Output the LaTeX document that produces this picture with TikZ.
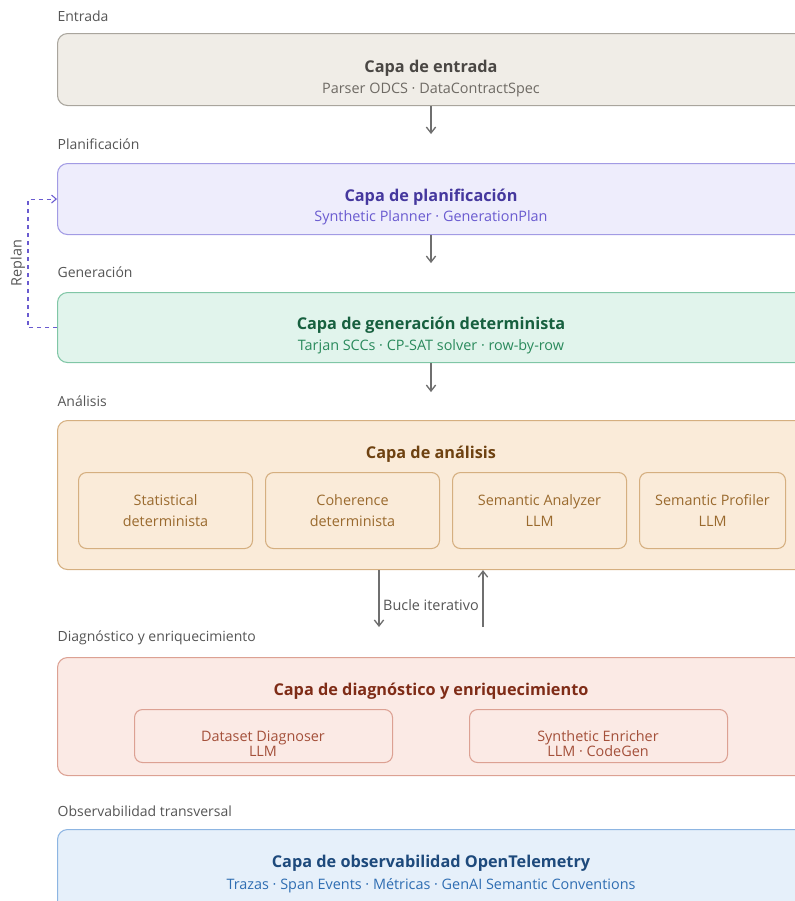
\documentclass[tikz,border=0pt]{standalone}
\usepackage{fontspec}
\setmainfont{Open Sans}
\usetikzlibrary{positioning,arrows.meta}

\definecolor{inFill}{HTML}{F0EDE7}
\definecolor{inLine}{HTML}{A9A59D}
\definecolor{inText}{HTML}{4A4744}
\definecolor{inSub}{HTML}{6E6A64}
\definecolor{plFill}{HTML}{EEEDFC}
\definecolor{plLine}{HTML}{A29BE4}
\definecolor{plText}{HTML}{45389E}
\definecolor{plSub}{HTML}{6A5BD0}
\definecolor{geFill}{HTML}{E1F4EC}
\definecolor{geLine}{HTML}{80C6A6}
\definecolor{geText}{HTML}{17603F}
\definecolor{geSub}{HTML}{2A8A5C}
\definecolor{anFill}{HTML}{FAEBD9}
\definecolor{anLine}{HTML}{D5AF80}
\definecolor{anText}{HTML}{6E4211}
\definecolor{anSub}{HTML}{9A6A2E}
\definecolor{diFill}{HTML}{FBEAE5}
\definecolor{diLine}{HTML}{DCA193}
\definecolor{diText}{HTML}{7F2C17}
\definecolor{diSub}{HTML}{A4503A}
\definecolor{obFill}{HTML}{E6F0FA}
\definecolor{obLine}{HTML}{8DB5E2}
\definecolor{obText}{HTML}{1E4A7C}
\definecolor{obSub}{HTML}{2E6DB2}
\definecolor{flow}{HTML}{6F6F6F}
\definecolor{tag}{HTML}{555555}

\begin{document}
\begin{tikzpicture}[x=0.75pt, y=-0.75pt,
    layer/.style={draw, rounded corners=7.5pt, line width=0.8pt, anchor=north west,
      minimum width=561pt, inner sep=0pt},
    part/.style={draw, rounded corners=6pt, line width=0.8pt, anchor=north west,
      inner sep=0pt, align=center, font=\fontsize{10.8}{15.5}\selectfont},
    tagtext/.style={anchor=west, inner sep=1pt, text=tag, font=\fontsize{10.5}{12}\selectfont},
    title/.style={font=\fontsize{12.2}{14}\bfseries\selectfont},
    subtitle/.style={font=\fontsize{10.8}{12}\selectfont},
    flowarrow/.style={draw=flow, line width=1pt, -{Straight Barb[length=4.5pt,width=7pt]}}]
    \useasboundingbox (0,0) rectangle (794,901);

    % entrada
    \node (tagIn) [tagtext] at (56,16) {Entrada};
    \node (input) [layer, fill=inFill, draw=inLine, minimum height=54pt] at (57,33) {};
    \node (inputT) [title, text=inText] at (431,68.5) {Capa de entrada};
    \node (inputS) [subtitle, text=inSub] at (431,90) {Parser ODCS · DataContractSpec};

    % planificacion
    \node (tagPl) [tagtext] at (56,144) {Planificación};
    \node (plan) [layer, fill=plFill, draw=plLine, minimum height=53.25pt] at (57,163) {};
    \node (planT) [title, text=plText] at (431,197.5) {Capa de planificación};
    \node (planS) [subtitle, text=plSub] at (431,218) {Synthetic Planner · GenerationPlan};

    % generacion
    \node (tagGe) [tagtext] at (56,272) {Generación};
    \node (gen) [layer, fill=geFill, draw=geLine, minimum height=52.5pt] at (57,292) {};
    \node (genT) [title, text=geText] at (431,325.5) {Capa de generación determinista};
    \node (genS) [subtitle, text=geSub] at (431,347) {Tarjan SCCs · CP-SAT solver · row-by-row};

    % analisis
    \node (tagAn) [tagtext] at (56,401) {Análisis};
    \node (ana) [layer, fill=anFill, draw=anLine, minimum height=111.75pt] at (57,420) {};
    \node (anaT) [title, text=anText] at (431,454.5) {Capa de análisis};
    \node (stat) [part, draw=anLine, text=anSub, minimum width=130.5pt, minimum height=57pt] at (78,472) {Statistical\\determinista};
    \node (coh) [part, draw=anLine, text=anSub, minimum width=130.5pt, minimum height=57pt] at (265,472) {Coherence\\determinista};
    \node (sema) [part, draw=anLine, text=anSub, minimum width=130.5pt, minimum height=57pt] at (452,472) {Semantic Analyzer\\LLM};
    \node (semp) [part, draw=anLine, text=anSub, minimum width=109.5pt, minimum height=57pt] at (639,472) {Semantic Profiler\\LLM};

    % diagnostico
    \node (tagDi) [tagtext] at (56,638) {Diagnóstico y enriquecimiento};
    \node (diag) [layer, fill=diFill, draw=diLine, minimum height=88.5pt] at (57,657) {};
    \node (diagT) [title, text=diText] at (431,691.5) {Capa de diagnóstico y enriquecimiento};
    \node (dsd) [part, draw=diLine, minimum width=193.5pt, minimum height=39.75pt] at (134,709) {};
    \node (enr) [part, draw=diLine, minimum width=193.5pt, minimum height=39.75pt] at (469,709) {};
    \node (dsdL) [align=center, text=diSub, font=\fontsize{10.8}{11.3}\selectfont] at (263,744) {Dataset Diagnoser\\LLM};
    \node (enrL) [align=center, text=diSub, font=\fontsize{10.8}{11.3}\selectfont] at (598,744) {Synthetic Enricher\\LLM · CodeGen};

    % observabilidad
    \node (tagOb) [tagtext] at (56,811) {Observabilidad transversal};
    \node (obs) [layer, fill=obFill, draw=obLine, minimum height=63pt] at (57,829) {};
    \node (obsT) [title, text=obText] at (431,863.5) {Capa de observabilidad OpenTelemetry};
    \node (obsS) [subtitle, text=obSub] at (431,886) {Trazas · Span Events · Métricas · GenAI Semantic Conventions};

    % flujo
    \draw[flowarrow] (input.south -| inputT) -- ++(0,28);
    \draw[flowarrow] (plan.south -| planT) -- ++(0,28);
    \draw[flowarrow] (gen.south -| genT) -- ++(0,29);
    \coordinate (loopA) at (379,627);
    \coordinate (loopB) at (483,627);
    \draw[flowarrow] (ana.south -| loopA) -- (loopA);
    \draw[flowarrow] (loopB) -- (ana.south -| loopB);
    \node (loopL) [subtitle, text=tag] at (431,605) {Bucle iterativo};

    % replan
    \coordinate (rp) at (28,263);
    \draw[plSub, dashed, line width=0.8pt, -{Straight Barb[length=3.5pt,width=6pt]}]
      (gen.west) -| (rp) |- (plan.west);
    \node (replanL) [subtitle, text=tag, rotate=90] at (18,263) {Replan};
\end{tikzpicture}
\end{document}
